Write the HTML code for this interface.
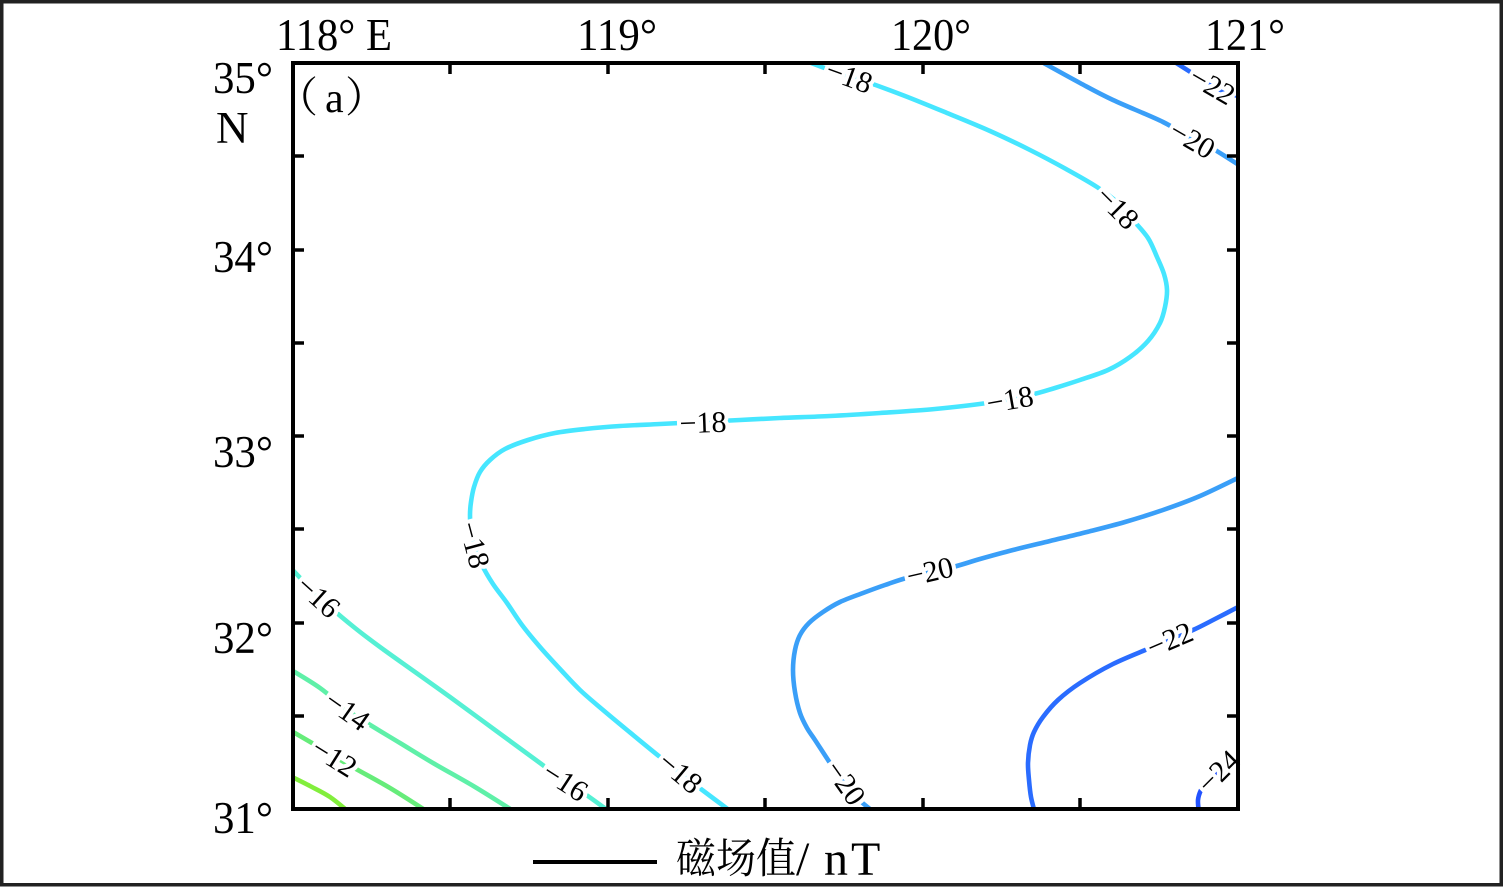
<!DOCTYPE html>
<html><head><meta charset="utf-8"><style>
html,body{margin:0;padding:0;background:#fff;}
svg{display:block;}
</style></head><body>
<svg id="s" width="1504" height="889" viewBox="0 0 1504 889" xmlns="http://www.w3.org/2000/svg">
<rect x="0" y="0" width="1504" height="889" fill="#fff"/>
<rect x="1.75" y="1.75" width="1499.5" height="883" fill="none" stroke="#222" stroke-width="3.5"/>
<defs><clipPath id="pc"><rect x="293" y="63" width="945" height="746"/></clipPath></defs>
<g id="cont" clip-path="url(#pc)" fill="none" stroke-width="4.6" stroke-linejoin="round" stroke-linecap="round">
<polyline stroke="#82ee3c" points="288,775 310,786 330,797 350,813"/>
<polyline stroke="#66ec7a" points="288,729 312,743 349,765 390,788 428,812"/>
<polyline stroke="#5ff0a8" points="288,668 320,688 347,710 367,723 400,743 433,763 475,787 515,812"/>
<polyline stroke="#55f0d4" points="288,565 310,588 330,607 355,628 380,647 415,672 450,697 495,730 540,763 563,780 585,794 610,812"/>
<polyline stroke="#46e6ff" points="806,61 830,70 867,82 905,96 947,113 990,131 1030,150 1066,169 1097,187 1118,203 1133,220 1148,238 1157,257 1164,274 1167,290 1165,307 1160,323 1148,341 1130,357 1108,370 1080,380 1055,388 1030,395 987,403 935,409 880,413 830,416 780,418 740,420 700,422 660,424 620,426 585,429 555,433 528,440 505,449 490,460 480,472 474,487 471,502 470,515 471,530 475,547 482,565 493,584 507,603 522,625 540,647 560,669 580,690 603,710 627,730 660,757 693,783 733,813"/>
<polyline stroke="#3a9ff8" points="1040,61 1080,83 1113,100 1163,122 1190,138 1210,147 1242,167"/>
<polyline stroke="#2a6cff" points="1173,61 1195,75 1213,87 1230,93 1242,98"/>
<polyline stroke="#3a9ff8" points="1242,476 1200,496 1163,510 1125,522 1087,532 1050,541 1013,550 980,559 953,567 910,577 885,585 863,593 840,602 823,612 809,623 800,635 795,650 793,670 795,692 800,713 807,728 815,740 830,763 845,785 858,799 875,813"/>
<polyline stroke="#2a6cff" points="1242,605 1215,619 1193,630 1170,639 1150,648 1113,664 1080,683 1058,700 1043,717 1034,732 1030,745 1028,763 1029,780 1031,797 1035,813"/>
<polyline stroke="#2252ff" points="1242,754 1217,773 1207,781 1201,790 1198,800 1199,813"/>
</g>
<g font-family="'Liberation Serif', serif" font-size="30" fill="#000" stroke="#fff" stroke-width="8" paint-order="stroke" text-anchor="middle" dominant-baseline="central">
<text transform="translate(849,77) rotate(20)">−18</text>
<text transform="translate(1117,208) rotate(45)">−18</text>
<text transform="translate(1010,400) rotate(-10)">−18</text>
<text transform="translate(703,423) rotate(-2)">−18</text>
<text transform="translate(474,545) rotate(75)">−18</text>
<text transform="translate(680,773) rotate(40)">−18</text>
<text transform="translate(318,597) rotate(42)">−16</text>
<text transform="translate(565,782) rotate(33)">−16</text>
<text transform="translate(347,711) rotate(35)">−14</text>
<text transform="translate(334,758) rotate(32)">−12</text>
<text transform="translate(1192,140) rotate(30)">−20</text>
<text transform="translate(1212,86) rotate(30)">−22</text>
<text transform="translate(930,572) rotate(-13)">−20</text>
<text transform="translate(1170,640) rotate(-23)">−22</text>
<text transform="translate(845,783) rotate(55)">−20</text>
<text transform="translate(1219,772) rotate(-45)">−24</text>
</g>
<rect x="293" y="63" width="945" height="746" fill="none" stroke="#000" stroke-width="4"/>
<g stroke="#000" stroke-width="3.5">
<line x1="450" y1="63" x2="450" y2="74"/><line x1="608" y1="63" x2="608" y2="74"/><line x1="765" y1="63" x2="765" y2="74"/><line x1="923" y1="63" x2="923" y2="74"/><line x1="1080" y1="63" x2="1080" y2="74"/>
<line x1="450" y1="809" x2="450" y2="798"/><line x1="608" y1="809" x2="608" y2="798"/><line x1="765" y1="809" x2="765" y2="798"/><line x1="923" y1="809" x2="923" y2="798"/><line x1="1080" y1="809" x2="1080" y2="798"/>
<line x1="293" y1="156" x2="304" y2="156"/><line x1="293" y1="250" x2="304" y2="250"/><line x1="293" y1="343" x2="304" y2="343"/><line x1="293" y1="436" x2="304" y2="436"/><line x1="293" y1="529" x2="304" y2="529"/><line x1="293" y1="623" x2="304" y2="623"/><line x1="293" y1="716" x2="304" y2="716"/>
<line x1="1238" y1="156" x2="1227" y2="156"/><line x1="1238" y1="250" x2="1227" y2="250"/><line x1="1238" y1="343" x2="1227" y2="343"/><line x1="1238" y1="436" x2="1227" y2="436"/><line x1="1238" y1="529" x2="1227" y2="529"/><line x1="1238" y1="623" x2="1227" y2="623"/><line x1="1238" y1="716" x2="1227" y2="716"/>
</g>
<g font-family="'Liberation Serif', serif" font-size="45" fill="#000">
<text x="276" y="50" textLength="116" lengthAdjust="spacingAndGlyphs">118° E</text>
<text x="577" y="50" textLength="80" lengthAdjust="spacingAndGlyphs">119°</text>
<text x="891" y="50" textLength="80" lengthAdjust="spacingAndGlyphs">120°</text>
<text x="1205" y="50" textLength="80" lengthAdjust="spacingAndGlyphs">121°</text>
<text x="213" y="93" textLength="60" lengthAdjust="spacingAndGlyphs">35°</text>
<text x="216" y="143">N</text>
<text x="213" y="272" textLength="60" lengthAdjust="spacingAndGlyphs">34°</text>
<text x="213" y="467" textLength="60" lengthAdjust="spacingAndGlyphs">33°</text>
<text x="213" y="653" textLength="60" lengthAdjust="spacingAndGlyphs">32°</text>
<text x="213" y="833" textLength="60" lengthAdjust="spacingAndGlyphs">31°</text>
</g>
<text font-family="'Liberation Serif', 'Noto Serif CJK SC', serif" font-size="42" fill="#000" y="112"><tspan x="276">（</tspan><tspan x="325">a</tspan><tspan x="345">）</tspan></text>
<line x1="533" y1="862" x2="657" y2="862" stroke="#000" stroke-width="4"/>
<text x="676" y="873" font-family="'Noto Serif CJK SC', serif" font-size="42" fill="#000" textLength="120" lengthAdjust="spacingAndGlyphs">磁场值</text>
<text y="875" font-family="'Liberation Serif', serif" font-size="48" fill="#000"><tspan x="796">/</tspan><tspan x="824">n</tspan><tspan x="851">T</tspan></text>
</svg>
<script>
(function(){
  var ns="http://www.w3.org/2000/svg";
  var g=document.getElementById("cont");
  var pls=Array.prototype.slice.call(g.getElementsByTagName("polyline"));
  pls.forEach(function(pl){
    var pts=pl.getAttribute("points").trim().split(/\s+/).map(function(s){var a=s.split(",");return [parseFloat(a[0]),parseFloat(a[1])];});
    if(pts.length<3)return;
    var d="M"+pts[0][0]+","+pts[0][1];
    for(var i=0;i<pts.length-1;i++){
      var p0=pts[i-1]||pts[i],p1=pts[i],p2=pts[i+1],p3=pts[i+2]||pts[i+1];
      var c1x=p1[0]+(p2[0]-p0[0])/6,c1y=p1[1]+(p2[1]-p0[1])/6;
      var c2x=p2[0]-(p3[0]-p1[0])/6,c2y=p2[1]-(p3[1]-p1[1])/6;
      d+=" C"+c1x.toFixed(2)+","+c1y.toFixed(2)+" "+c2x.toFixed(2)+","+c2y.toFixed(2)+" "+p2[0]+","+p2[1];
    }
    var p=document.createElementNS(ns,"path");
    p.setAttribute("d",d);
    p.setAttribute("stroke",pl.getAttribute("stroke"));
    g.replaceChild(p,pl);
  });
})();
</script>
</body></html>
